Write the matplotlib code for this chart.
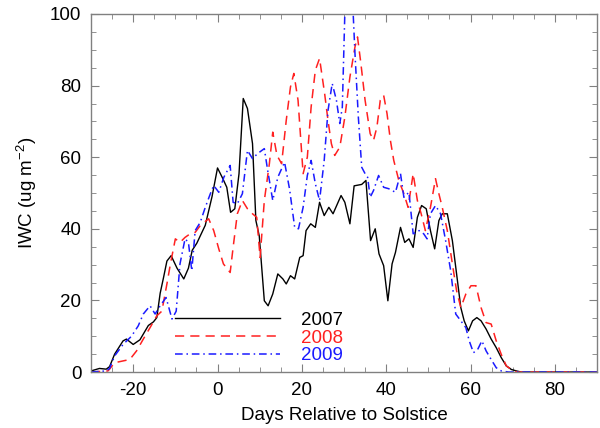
import matplotlib
matplotlib.use("Agg")
import matplotlib.pyplot as plt
from matplotlib.ticker import MultipleLocator

plt.rcParams['font.family'] = ['Liberation Sans', 'DejaVu Sans']
plt.rcParams['axes.unicode_minus'] = False
plt.rcParams['mathtext.fontset'] = 'custom'
plt.rcParams['mathtext.rm'] = 'Liberation Sans'

# ================= DATA =================
days_2007 = [-30, -28, -26.4, -25.6, -24.4, -22.4, -21.6, -20, -18.4, -16.4, -15.2, -14.4,
             -13.6, -12.8, -12, -11, -9.6, -8, -6.9, -6, -4.9, -2.9, -1.3, 0, 1.1, 2.2,
             3.1, 4.1, 5.1, 6.1, 7.1, 8.3, 9.1, 9.9, 11.1, 12, 13.1, 14.3, 15.5, 16.3,
             17.3, 18.3, 19.5, 20.3, 21, 22.1, 23.2, 24.2, 25.3, 26.4, 27.4, 29.3, 30.2,
             31.4, 32.4, 34.2, 35.2, 36.3, 37.4, 38.3, 39.4, 40.4, 41.4, 42.2, 43.4, 44.4,
             45.4, 46.4, 47.4, 48.4, 49.5, 50.5, 51.5, 52.5, 53.3, 54.5, 55.7, 56.7, 57.7,
             58.5, 59.5, 60.5, 61.5, 62.5, 63.7, 64.9, 66.1, 67.3, 68.5, 69.7, 70.9, 72, 90]
iwc_2007 = [0.3, 1, 0.8, 1.5, 5, 8.7, 9.2, 7.7, 9, 13, 14, 15.2,
            22, 26.4, 31, 32.5, 29, 26, 29, 34, 36, 41, 49, 57, 54.4, 51.6,
            44.6, 45.6, 55.4, 76.4, 73.6, 63.8, 42.3, 38, 19.9, 18.5, 21.8, 27.4, 26, 24.6,
            26.9, 26, 32, 32.5, 39.5, 41.4, 40.4, 47.4, 43.7, 46, 44.2, 49.3, 47.4,
            41.4, 52, 52.4, 53.5, 36.7, 40, 33, 29.7, 19.9, 30.2, 33.4, 40.4, 36.2,
            37.2, 34.8, 43.2, 46.5, 45.6, 39.5, 34.4, 42.3, 44.2, 44.2, 36.7, 27.4, 18,
            14.3, 11.5, 14.3, 15.2, 14.3, 12, 9.2, 6.8, 4, 1.7, 0.7, 0.3, 0, 0]

days_2008 = [-30, -26, -25.6, -24.4, -22.4, -20.8, -19.2, -17.6, -16, -14.4, -13.2, -12,
             -11.2, -10, -8.9, -7.7, -6.5, -5.3, -4.1, -2.1, -0.9, 0.3, 1.4, 3, 3.7, 4.7,
             5.9, 7.1, 8.3, 9.3, 10.1, 11.1, 12.3, 13.1, 14.1, 15.2, 16.3, 17.3, 18.1, 19.1,
             20.3, 21.3, 22.2, 23.2, 24.2, 25.4, 26.2, 27, 27.8, 29, 30.2, 31.4, 32.6, 33.2,
             34, 35, 36.2, 37, 37.8, 38.6, 39.4, 40.2, 41, 41.8, 43, 44.2, 45.2, 46.4, 47.4,
             48.3, 49.3, 50.5, 51.7, 52.5, 53.3, 54.5, 55.7, 56.7, 57.7, 58.9, 60.1, 61.3,
             62.5, 63.7, 64.9, 66.1, 67.3, 68.5, 69.7, 71, 90]
iwc_2008 = [0, 0.3, 0.8, 2.6, 3.1, 3.5, 5.9, 9.2, 12.4, 15.7, 17, 24.6,
            30, 37.2, 36.2, 37.6, 38.6, 39, 40.9, 42.8, 39.5, 34.4, 30.2, 27.8, 34.8, 44.2,
            47.9, 45.6, 44.2, 43.2, 32, 47.9, 58.2, 67, 60.5, 58.2, 70.3, 79.6, 83.4, 75.9,
            55.4, 60, 74, 84.3, 87.6, 77.8, 70.3, 63.8, 60.5, 62.8, 71.2, 82.4, 90.8, 93.6,
            86.2, 75.9, 66.6, 64.7, 68.4, 75.9, 77.3, 72.2, 64.7, 59.1, 53.5, 49.8, 46, 55.4, 47.9,
            44.2, 39.5, 46, 54, 49.8, 46, 39.5, 30.2, 22.7, 18, 21.8, 24.1, 24.1,
            18, 13.8, 13.4, 8.7, 4.9, 1.7, 0.7, 0, 0]

days_2009 = [-30, -26.4, -25.6, -24.4, -22.4, -20.4, -18.8, -17.6, -16, -14.8, -13.6, -12.2,
             -10.8, -9.8, -8.9, -7.7, -6.9, -6.1, -5.3, -4.1, -2.9, -1.7, -0.9, 0.3, 1.5, 3,
             3.7, 4.7, 5.9, 7.1, 8.3, 9.5, 11.1, 11.9, 13.1, 14.3, 15.9, 17.1, 18.3, 19.2,
             20.3, 21.3, 22.2, 23.2, 24.2, 25.3, 26.2, 27.2, 28.2, 29, 29.6, 30.6, 31.6, 32.6,
             33.4, 34.2, 35, 35.6, 36.2, 37, 38.2, 39.4, 40.6, 42.2, 43.4, 44.2, 45.4, 46.4,
             47.8, 48.9, 49.7, 50.5, 51.7, 52.9, 54.1, 55.3, 56.5, 57.7, 58.9, 59.7, 60.7,
             61.7, 62.7, 63.7, 64.9, 66.1, 67.3, 69, 90]
iwc_2009 = [0, 0.3, 1, 4.5, 7.7, 10, 12.9, 16.2, 18.5, 16.2, 18.5, 20.8,
            14.8, 17, 30.2, 37.2, 36.2, 28.3, 39.5, 41.8, 46, 49.8, 52.1, 50.2, 54.4, 57.7,
            47.4, 47, 49.8, 61.9, 59.6, 61, 62.4, 56.3, 47.9, 54.4, 58.6, 51, 40.4, 40,
            46, 54.9, 59.1, 52.6, 47.9, 59.1, 73, 80.6, 75.9, 69.4, 74, 118, 115, 89,
            71.2, 57.2, 55.4, 54.4, 48.8, 50.7, 54.9, 51.6, 51.2, 50.2, 55.4, 48.8, 50.2, 38.6,
            39.5, 38.6, 37.2, 44.2, 46.5, 44.2, 36.7, 28.3, 16.2, 14.3, 12.4, 8.7, 5.4,
            6.3, 8.7, 5.9, 3.5, 1.2, 0.3, 0, 0]

# ================= PLOT =================
fig = plt.figure(figsize=(6, 4.28), dpi=100)
ax = fig.add_axes([0.1517, 0.1308, 0.8433, 0.8365])

ax.plot(days_2007, iwc_2007, color='black', lw=1.0, label='2007')
ax.plot(days_2008, iwc_2008, color='#ff2020', lw=1.1, dashes=[6, 4], label='2008')
ax.plot(days_2009, iwc_2009, color='#1a1aff', lw=1.1, dashes=[5, 2.5, 1, 2.5], label='2009')

ax.set_xlim(-30, 90)
ax.set_ylim(0, 100)
ax.xaxis.set_major_locator(MultipleLocator(20))
ax.xaxis.set_minor_locator(MultipleLocator(5))
ax.yaxis.set_major_locator(MultipleLocator(20))
ax.yaxis.set_minor_locator(MultipleLocator(5))
ax.tick_params(which='both', direction='in', top=True, right=True, color='#808080',
               labelsize=13.5, pad=7)
ax.tick_params(which='major', length=6)
ax.tick_params(which='minor', length=3.3)
for sp in ax.spines.values():
    sp.set_color('#808080')
    sp.set_linewidth(1.0)

ax.set_xlabel("Days Relative to Solstice", fontsize=13.5, labelpad=6)
ax.set_ylabel("IWC (ug m$^{\\mathrm{-2}}$)", fontsize=13.5, labelpad=8)

# legend sits inside the plot, lower left, like the IDL original
leg = ax.legend(loc='upper left', bbox_to_anchor=(0.166, 0.169), frameon=False,
                fontsize=13.5, handlelength=5.6, handletextpad=1.1,
                labelspacing=0.04, borderpad=0, borderaxespad=0, labelcolor='linecolor')

fig.savefig("out.png", dpi=100)
